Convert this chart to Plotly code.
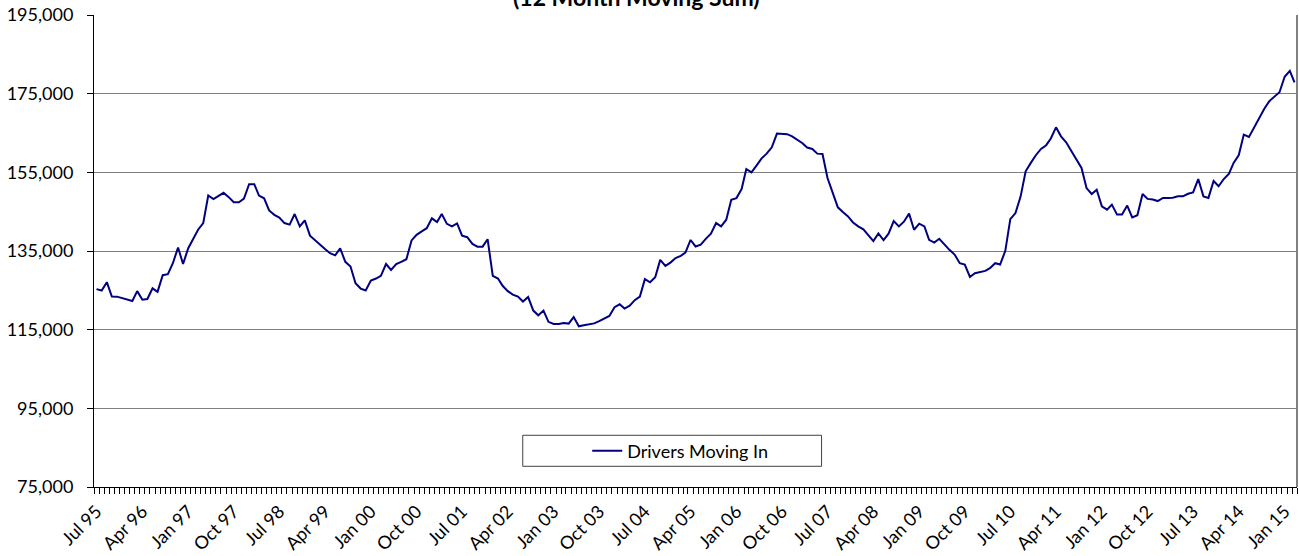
import pandas as pd
import plotly.graph_objects as go

# ---------------- data ----------------
start_month = "1995-07-01"
n_months = 237
months = pd.date_range(start_month, periods=n_months, freq="MS")

series_name = "Drivers Moving In"
drivers_1995_1998 = [125300, 124950, 127070, 123420, 123400, 123100, 122800, 122300, 124800, 122600,
                     122800, 125500, 124600, 128850, 129100, 131900, 135900, 131700, 135700, 138300,
                     140400, 142100, 149100, 148200, 149100, 149800, 148700, 147400, 147400, 148300,
                     152000, 152000, 149100, 148400, 145300, 144200, 143500, 142100, 141700, 144400]
drivers_1998_2001 = [141250, 142800, 138900, 137700, 136500, 135500, 134450, 133900, 135650, 132250,
                     131050, 126800, 125450, 124950, 127500, 128000, 128700, 131700, 130200, 131650,
                     132250, 132900, 137700, 139100, 140000, 140800, 143300, 142350, 144400, 141900,
                     141250, 142000, 138900, 138500, 136800, 136100, 136100, 138000, 128700]
drivers_2002_2005 = [128000, 126150, 124800, 123900, 123400, 122150, 123300, 119850, 118650, 119850,
                     117000, 116450, 116450, 116700, 116550, 118200, 115850, 116100, 116350, 116600,
                     117150, 117800, 118500, 120700, 121450, 120350, 121100, 122500, 123400, 127850,
                     127050, 128350, 132750, 131200, 132050, 133200, 133750, 134600, 137800]
drivers_2005_2008 = [136150, 136600, 138100, 139400, 142100, 141250, 142950, 148050, 148450, 150750,
                     155850, 155000, 156700, 158550, 159750, 161350, 164850, 164700, 164700, 164150,
                     163300, 162400, 161300, 160950, 159750, 159650, 153550, 149750, 146100, 144900,
                     143800, 142250, 141250, 140500, 139100, 137500, 139450, 137750, 139400, 142600]
drivers_2008_2011 = [141250, 142450, 144500, 140400, 141950, 141250, 137850, 137150, 138100, 136650,
                     135300, 134100, 131900, 131550, 128400, 129350, 129600, 129950, 130650, 131900,
                     131550, 135050, 143100, 144650, 148900, 155250, 157400, 159350, 160950, 161900,
                     163600, 166450, 164150, 162650, 160500, 158400, 156100, 151000, 149500]
drivers_2012_2015 = [150600, 146350, 145500, 146800, 144250, 144250, 146550, 143550, 144100, 149500,
                     148250, 148100, 147700, 148500, 148500, 148550, 148900, 148900, 149550, 149900,
                     153300, 148900, 148500, 152800, 151450, 153300, 154650, 157400, 159400, 164600,
                     164000, 166300, 168850, 171150, 173100, 174350, 175350, 179300, 180800, 177900]

drivers = (drivers_1995_1998 + drivers_1998_2001 + drivers_2002_2005 +
           drivers_2005_2008 + drivers_2008_2011 + drivers_2012_2015)

tick_labels = ["Jul 95", "Apr 96", "Jan 97", "Oct 97", "Jul 98", "Apr 99", "Jan 00", "Oct 00",
               "Jul 01", "Apr 02", "Jan 03", "Oct 03", "Jul 04", "Apr 05", "Jan 06", "Oct 06",
               "Jul 07", "Apr 08", "Jan 09", "Oct 09", "Jul 10", "Apr 11", "Jan 12", "Oct 12",
               "Jul 13", "Apr 14", "Jan 15"]
tick_step = 9
y_ticks = [75000, 95000, 115000, 135000, 155000, 175000, 195000]
title_text = "(12 Month Moving Sum)"

# ---------------- figure ----------------
FONT = "Lato"
fig = go.Figure()
fig.add_trace(go.Scatter(
    x=months, y=drivers, mode="lines", name=series_name,
    line=dict(color="#000080", width=2),
))

x_start = months[0] - pd.Timedelta(days=15)
x_end = months[-1] + pd.Timedelta(days=15)

fig.update_layout(
    width=1299, height=556,
    margin=dict(l=94, r=2, t=15, b=69, autoexpand=False),
    paper_bgcolor="white", plot_bgcolor="white",
    font=dict(family=FONT, size=18, color="#000000"),
    showlegend=True,
    legend=dict(
        x=0.41, xanchor="left", y=0.0763, yanchor="middle",
        orientation="h", bgcolor="rgba(0,0,0,0)", borderwidth=0,
        font=dict(family=FONT, size=18, color="#000000"),
    ),
)

fig.add_annotation(
    text="<b>" + title_text + "</b>", xref="paper", yref="paper",
    x=(637 - 94) / 1203.7, y=1, xanchor="center", yanchor="middle",
    yshift=18, showarrow=False,
    font=dict(family=FONT, size=23, color="#000000"),
)

fig.update_xaxes(
    type="date", range=[x_start, x_end],
    tickmode="array", tickvals=list(months[::tick_step]), ticktext=tick_labels,
    tickangle=-45, ticks="", showgrid=False, zeroline=False,
    showline=True, linecolor="#000000", linewidth=1,
    ticklabelstandoff=6,
    minor=dict(ticks="outside", ticklen=6, tickcolor="#000000",
               tick0=x_start, dtick="M1", showgrid=False),
    tickfont=dict(family=FONT, size=18, color="#000000"),
)
fig.update_yaxes(
    range=[75000, 195000], tickmode="array", tickvals=y_ticks,
    tickformat=",", showgrid=True, gridcolor="#808080", gridwidth=1,
    zeroline=False, showline=True, linecolor="#000000", linewidth=1,
    ticks="outside", ticklen=6, tickcolor="#000000",
    ticklabelstandoff=10,
    tickfont=dict(family=FONT, size=18, color="#000000"),
)

# legend box and right-hand border of the plot area
fig.add_shape(type="rect", xref="paper", yref="paper",
              x0=(523 - 94) / 1203.7, x1=(822 - 94) / 1203.7,
              y0=(486.7 - 466) / 471.7, y1=(486.7 - 435) / 471.7,
              line=dict(color="#404040", width=1), fillcolor="rgba(0,0,0,0)")
fig.add_shape(type="line", xref="paper", yref="paper", x0=1, x1=1, y0=0, y1=1,
              line=dict(color="#808080", width=2))

fig.write_html("out.html", config={"displayModeBar": False},
               post_script="document.body.style.margin='0';")
